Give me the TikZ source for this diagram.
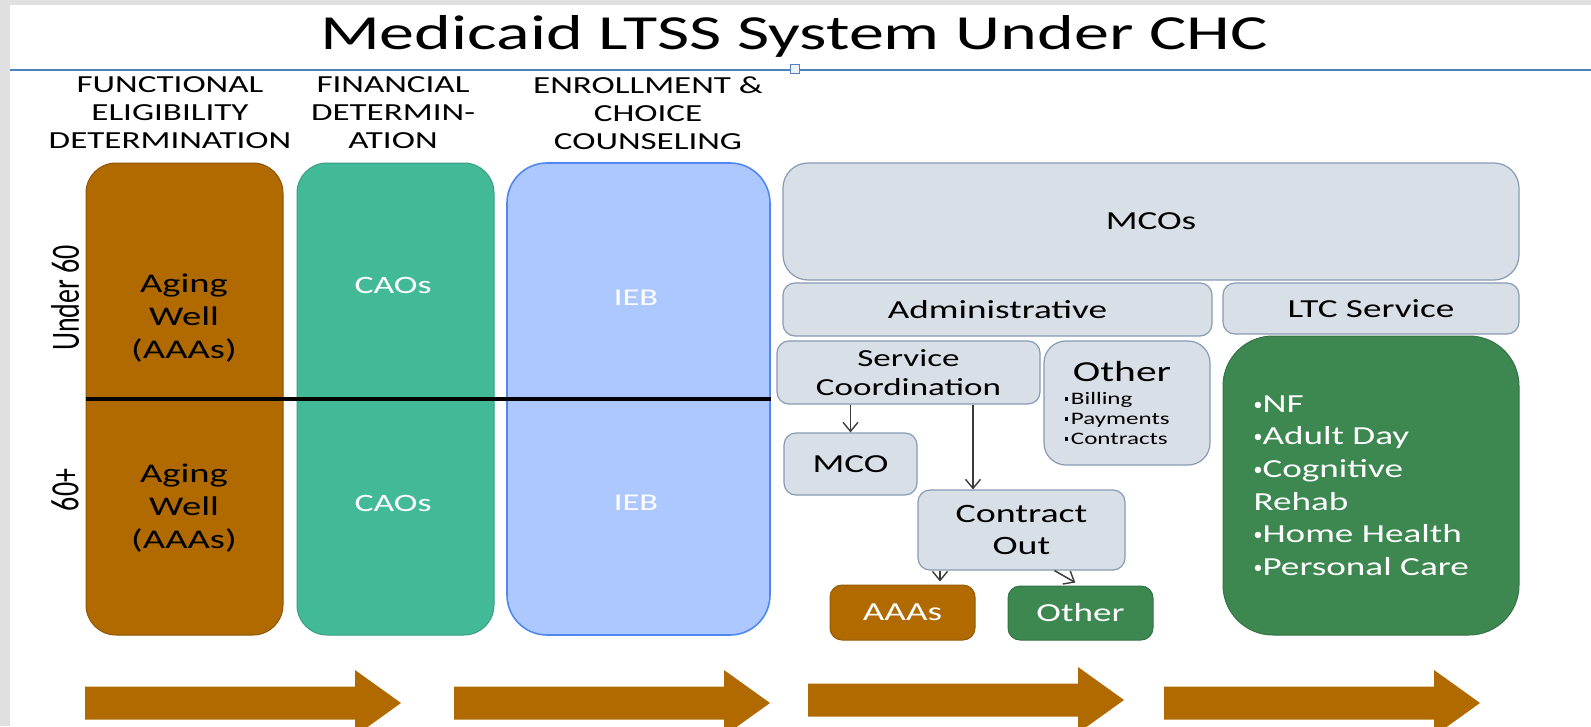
\documentclass[tikz,border=0pt]{standalone}
\usepackage{fontspec}
\setmainfont[FakeStretch=1.43]{Carlito}
\newfontfamily\sidefont{Carlito}
\usetikzlibrary{arrows.meta}
\definecolor{agebrown}{RGB}{176,106,0}
\definecolor{caoteal}{RGB}{67,186,151}
\definecolor{iebblue}{RGB}{173,200,255}
\definecolor{iebedge}{RGB}{80,135,240}
\definecolor{mcogray}{RGB}{216,223,230}
\definecolor{mcoedge}{RGB}{135,155,180}
\definecolor{ltcgreen}{RGB}{61,135,81}
\definecolor{rulecol}{RGB}{79,129,189}
\definecolor{linkgray}{RGB}{60,60,60}
\newcommand\ltcdot{{\sidefont\fontsize{18}{18}\selectfont\raisebox{0.25ex}{•}}}
\newcommand\sqdot{\raisebox{.4ex}{\rule{3.5pt}{3.5pt}}\,}
\begin{document}
\begin{tikzpicture}[
        x=1pt, y=-1pt,
        >={Straight Barb[length=9pt,width=15pt,line width=1.4pt]},
        column/.style={rectangle, rounded corners=30, inner sep=0pt, line width=1},
        graybox/.style={rectangle, draw=mcoedge, fill=mcogray, line width=1.2,
          rounded corners=12, inner sep=0pt, align=center,
          font=\fontsize{26}{31}\selectfont},
        greenbox/.style={rectangle, draw=ltcgreen!85!black, fill=ltcgreen, line width=1,
          rounded corners=12, inner sep=0pt, align=center, text=white,
          font=\fontsize{26}{31}\selectfont},
        head/.style={align=center, font=\fontsize{24.5}{28}\selectfont},
        inbox/.style={align=center, font=\fontsize{26}{33}\selectfont},
        side/.style={rotate=90, font=\sidefont\fontsize{28}{30}\selectfont},
        link/.style={->, draw=linkgray, line width=1.5}
    ]
    % Page and frame
    \clip (0,0) rectangle (1591,726);
    \fill[black!12] (0,0) rectangle (1591,726);
    \fill[white] (10,5) rectangle (1591,726);
    
    % Title
    \node[font=\fontsize{49}{52}\selectfont] (title) at (794,36) {Medicaid LTSS System Under CHC};
    \draw[rulecol, line width=2] (10,70) -- (1591,70);
    \node[draw=rulecol, fill=rulecol!10, minimum size=9, inner sep=0pt] (hdl) at (795,69) {};
    
    % Column headings
    \node[head] (hfe) at (170,113) {FUNCTIONAL\\ELIGIBILITY\\DETERMINATION};
    \node[head] (hfd) at (393,113) {FINANCIAL\\DETERMIN-\\ATION};
    \node[head] (hec) at (648,113) {ENROLLMENT \&\\CHOICE\\COUNSELING};
    
    % Age groups
    \node[side] (u60) at (65,298) {\scalebox{1}[1.43]{Under 60}};
    \node[side] (o60) at (65,490) {\scalebox{1}[1.43]{60+}};
    
    % Columns
    \node[column, fill=agebrown, draw=agebrown!80!black,
      minimum width=197, minimum height=472] (fe) at (184.5,399) {};
    \node[column, fill=caoteal, draw=caoteal!85!black,
      minimum width=197, minimum height=472] (fd) at (395.5,399) {};
    \node[column, fill=iebblue, draw=iebedge, line width=1.6, rounded corners=40,
      minimum width=263, minimum height=472] (ec) at (638.5,399) {};
    \draw[line width=4] (fe.west) -- (ec.east);
    
    \node[inbox, font=\fontsize{27}{33}\selectfont] (aw1) at (184,318) {Aging\\Well\\(AAAs)};
    \node[inbox, font=\fontsize{27}{33}\selectfont] (aw2) at (184,508) {Aging\\Well\\(AAAs)};
    \node[inbox, text=white, font=\fontsize{25}{30}\selectfont] (cao1) at (393,285) {CAOs};
    \node[inbox, text=white, font=\fontsize{25}{30}\selectfont] (cao2) at (393,503) {CAOs};
    \node[inbox, text=white, font=\fontsize{24}{30}\selectfont] (ieb1) at (636,298) {IEB};
    \node[inbox, text=white, font=\fontsize{24}{30}\selectfont] (ieb2) at (636,503) {IEB};
    
    % MCOs
    \node[graybox, rounded corners=25, minimum width=736, minimum height=117] (mcos) at (1151,221.5) {MCOs};
    \node[graybox, minimum width=429, minimum height=53] (adm) at (997.5,309.5) {Administrative};
    \node[graybox, minimum width=296, minimum height=51] (ltc) at (1371,308.5) {LTC Service};
    \node[graybox, minimum width=263, minimum height=63,
      font=\fontsize{24.5}{29}\selectfont] (sc) at (908.5,372.5) {Service\\Coordination};
    \node[graybox, rounded corners=22, minimum width=166, minimum height=124] (oth) at (1127,403) {};
    \node[font=\fontsize{29}{30}\selectfont] (othtitle) at (1122,372) {Other};
    \node[align=left, anchor=west, font=\fontsize{17.5}{20}\selectfont] (othlist) at (1061,418)
      {\sqdot Billing\\ \sqdot Payments\\ \sqdot Contracts};
    \node[graybox, minimum width=133, minimum height=62] (mco) at (850.5,464) {MCO};
    \node[graybox, minimum width=207, minimum height=80,
      font=\fontsize{26.5}{32}\selectfont] (co) at (1021.5,530) {Contract\\Out};
    \node[greenbox, fill=agebrown, draw=agebrown!85!black, minimum width=145,
      minimum height=55] (aaa) at (902.5,612.5) {AAAs};
    \node[greenbox, minimum width=145, minimum height=54] (other) at (1080.5,613) {Other};
    
    % LTC services
    \node[greenbox, rounded corners=50, minimum width=296, minimum height=299] (ltcs) at (1371,485.5) {};
    \node[align=left, anchor=west, text=white, font=\fontsize{26}{32.6}\selectfont] (ltclist) at (1250,485.5)
      {\ltcdot NF\\ \ltcdot Adult Day\\ \ltcdot Cognitive\\Rehab\\ \ltcdot Home Health\\ \ltcdot Personal Care};
    
    % Links
    \draw[link] (sc.south -| mco.north) -- (mco.north);
    \draw[link] ([xshift=64.5]sc.south) -- ([xshift=-48.5]co.north);
    \draw[link, shorten >=3] ([xshift=-81.5]co.south) -- ([xshift=37.5]aaa.north);
    \draw[link, shorten >=6] ([xshift=33]co.south) -- (other.north);
    
    % Process arrows
    \foreach \x/\y in {85/703, 454/703, 808/700, 1164/703}
      \fill[agebrown] (\x,\y-16.5) -- (\x+270,\y-16.5) -- (\x+270,\y-33)
        -- (\x+316,\y) -- (\x+270,\y+33) -- (\x+270,\y+16.5) -- (\x,\y+16.5) -- cycle;
\end{tikzpicture}
\end{document}
